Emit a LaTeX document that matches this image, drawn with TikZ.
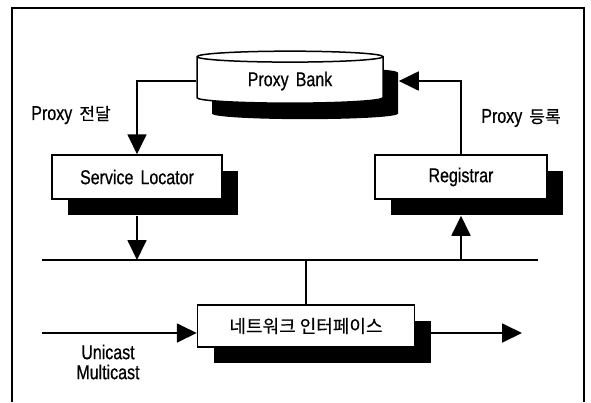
\documentclass[tikz,border=0pt]{standalone}
\usepackage{fontspec}
\setmainfont{Liberation Sans}[FakeStretch = 0.8, WordSpace = 1.6, FakeBold = 0.6]
\newfontfamily\kr{Noto Sans CJK KR}[FakeBold = 0.4]
\usetikzlibrary {
  positioning,
  shapes.geometric,
  shadows,
  arrows.meta,
}
\tikzset{
  frame/.style = {
    line width = 1.6pt
  },
  box/.style = {
    rectangle,
    draw,
    fill = white,
    line width = 1.5pt,
    minimum width = #1,
    minimum height = 44pt,
    inner sep = 0pt,
    font = \fontsize{20}{20}\selectfont,
    drop shadow = {shadow xshift = 16pt, shadow yshift = -16pt,
      opacity = 1, fill = black}
  },
  bank/.style = {
    cylinder,
    shape border rotate = 90,
    aspect = .12,
    draw,
    fill = white,
    line width = 1.5pt,
    minimum width = 186pt,
    minimum height = 52pt,
    font = \fontsize{20}{20}\selectfont,
    drop shadow = {shadow xshift = 15pt, shadow yshift = -16pt,
      opacity = 1, fill = black}
  },
  lbl/.style = {
    align = center,
    inner sep = 0pt,
    font = \fontsize{20}{20}\selectfont
  },
  con/.style = {
    -{Triangle[length = 20pt, width = 19pt]},
    line width = 1.8pt
  },
  bus/.style = {
    line width = 1.8pt
  }
}
\newcommand{\krl}[1]{{\kr\fontsize{17}{17}\selectfont #1}}

\begin{document}
\begin{tikzpicture}[x = 1pt, y = -1pt]
  \useasboundingbox (0,0) rectangle (591,402);

  % Marco.
  \draw[frame] (12,402) -- (12,8) -- (584,8) -- (584,402);

  % Nodos.
  \node[bank] (PB) at (290,81) {\raisebox{-6pt}{Proxy Bank}};
  \node[box = 170pt] (SL) at (137,177) {Service Locator};
  \node[box = 172pt] (RG) at (461,177) {Registrar};
  \node[box = 217pt, minimum height = 42pt] (NI) at (306,326)
    {\kr\fontsize{18}{18}\selectfont 네트워크 인터페이스};

  % Etiquetas.
  \node[lbl] (LT) at (71,115) {Proxy \krl{전달}};
  \node[lbl] (LR) at (521,118) {Proxy \krl{등록}};
  \node[lbl] (LU) at (108,362) {Unicast\\Multicast};

  % Bus.
  \coordinate (BL) at (42,260);
  \coordinate (BR) at (538,260);
  \coordinate (IN) at (42,333);
  \coordinate (OUT) at (522,333);
  \draw[bus] (BL) -- (BR);
  \draw[bus] (NI.north |- BL) -- (NI.north);

  % Conexiones.
  \draw[con] (PB.west) -| (SL.north);
  \draw[con] (RG.north) |- ([xshift = 15pt]PB.east);
  \draw[con] ([yshift = -16pt]SL.south) -- (SL.south |- BL);
  \draw[con] (RG.south |- BL) -- ([yshift = -16pt]RG.south);
  \draw[con] (IN) -- (NI.west |- IN);
  \draw[con] ([xshift = 16pt]NI.east |- IN) -- (OUT);
\end{tikzpicture}
\end{document}
